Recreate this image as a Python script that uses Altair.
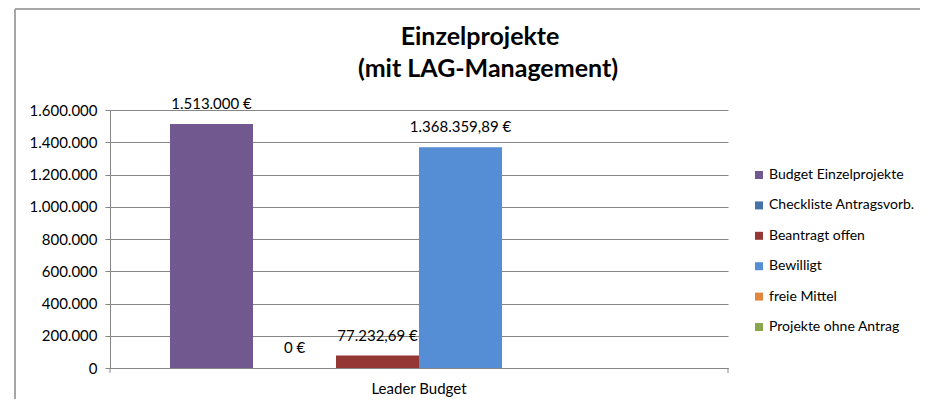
import altair as alt
import pandas as pd

# ---- data ----
group = "Leader Budget"
series = ["Budget Einzelprojekte", "Checkliste Antragsvorb.", "Beantragt offen",
          "Bewilligt", "freie Mittel", "Projekte ohne Antrag"]
values = [1513000, 0, 77232.69, 1368359.89, None, None]
colors = ["#71588F", "#4572A7", "#953735", "#558ED5", "#E2863F", "#8AA64E"]
y_ticks = [0, 200000, 400000, 600000, 800000, 1000000, 1200000, 1400000, 1600000]
title_text = "Einzelprojekte"
subtitle_text = "(mit LAG-Management)"


def de_fmt(v):
    if v is None:
        return ""
    if float(v).is_integer():
        s = f"{int(v):,}".replace(",", ".")
    else:
        s = f"{v:,.2f}".replace(",", "X").replace(".", ",").replace("X", ".")
    return s + " €"


labels = [de_fmt(v) for v in values]

df = pd.DataFrame({"group": [group] * len(series), "series": series,
                   "value": values, "label": labels})

FONT = "Lato"
FS = 15
W, H = 618, 258
GREY = "#868686"

base = alt.Chart(df).encode(
    x=alt.X("group:N",
            scale=alt.Scale(paddingOuter=0.1205, paddingInner=0),
            axis=alt.Axis(title=None, labelAngle=0, ticks=False, domainColor=GREY,
                          labelFont=FONT, labelFontSize=FS, labelColor="#000000",
                          labelPadding=13)),
    xOffset=alt.XOffset("series:N", sort=series,
                        scale=alt.Scale(domain=series, paddingInner=0, paddingOuter=0)),
)

yenc = alt.Y("value:Q",
             scale=alt.Scale(domain=[0, 1600000], nice=False),
             axis=alt.Axis(title=None, values=y_ticks, labelOverlap=False,
                           labelExpr="replace(replace(format(datum.value, ',d'), ',', '.'), ',', '.')",
                           gridColor=GREY, tickColor=GREY, domainColor=GREY,
                           tickSize=5, labelPadding=8, labelFont=FONT,
                           labelFontSize=FS, labelColor="#000000"))

bars = base.mark_bar().encode(
    y=yenc,
    color=alt.Color("series:N",
                    scale=alt.Scale(domain=series, range=colors),
                    legend=alt.Legend(title=None, orient="none", legendX=642, legendY=58,
                                      symbolType="square", symbolSize=64,
                                      symbolStrokeWidth=0, labelFont=FONT,
                                      labelFontSize=14, labelColor="#000000",
                                      labelOffset=3,
                                      rowPadding=16.4, labelLimit=300)),
)

text = base.mark_text(dy=-20, font=FONT, fontSize=FS, color="#000000").encode(
    y=yenc,
    text="label:N",
)

one = pd.DataFrame({"a": [0]})
frame_left = alt.Chart(one).mark_rule(color="#A6A6A6", strokeWidth=2).encode(
    x=alt.value(-95), y=alt.value(-101), y2=alt.value(300))
frame_top = alt.Chart(one).mark_rule(color="#A6A6A6", strokeWidth=2).encode(
    x=alt.value(-95), x2=alt.value(900), y=alt.value(-101))
tick_l = alt.Chart(one).mark_rule(color=GREY).encode(
    x=alt.value(0), y=alt.value(H), y2=alt.value(H + 5))
tick_r = alt.Chart(one).mark_rule(color=GREY).encode(
    x=alt.value(W), y=alt.value(H), y2=alt.value(H + 5))
title_mark = alt.Chart(one).mark_text(font=FONT, fontSize=25, fontWeight="bold",
                                      color="#000000", align="center",
                                      baseline="alphabetic").encode(
    x=alt.value(370), y=alt.value(-65), text=alt.value(title_text))
subtitle_mark = alt.Chart(one).mark_text(font=FONT, fontSize=25, fontWeight="bold",
                                         color="#000000", align="center",
                                         baseline="alphabetic").encode(
    x=alt.value(378), y=alt.value(-33), text=alt.value(subtitle_text))

chart = alt.layer(bars, text, frame_left, frame_top, tick_l, tick_r,
                  title_mark, subtitle_mark).properties(
    width=W, height=H,
    autosize=alt.AutoSizeParams(type="none"),
    padding={"left": 102, "top": 102, "right": 192, "bottom": 31},
).configure_view(stroke=None)

chart.save("out.html", embed_options={"renderer": "svg", "actions": False})
